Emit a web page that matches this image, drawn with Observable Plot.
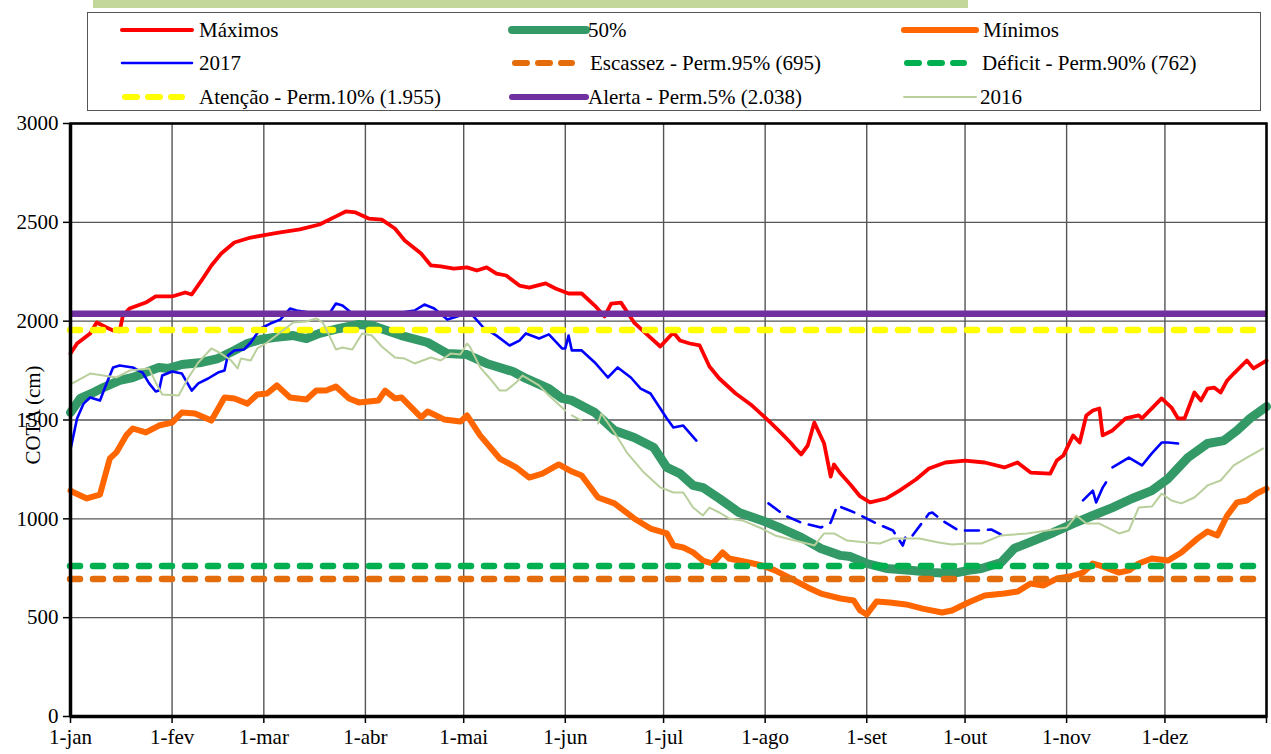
<!DOCTYPE html>
<html>
<head>
<meta charset="utf-8">
<script src="https://cdn.jsdelivr.net/npm/d3@7"></script>
<script src="https://cdn.jsdelivr.net/npm/@observablehq/plot@0.6"></script>
<style>
  body { margin: 0; background: #fff; font-family: "Liberation Serif", "Times New Roman", Tinos, "DejaVu Serif", serif; }
  #head { position: relative; width: 1271px; height: 100px; }
  #bar { position: absolute; left: 93px; top: 0; width: 875px; height: 8px; background: #C4D79B; }
  #box { position: absolute; left: 87px; top: 12px; width: 1174px; height: 99px; border: 1.5px solid #555; box-sizing: border-box; }
  .item { position: absolute; font-size: 21px; line-height: 24px; white-space: nowrap; color: #000; }
  .sw { position: absolute; }
  #chart svg { overflow: visible; }
</style>
</head>
<body>
<div id="head"><div id="bar"></div><div id="box"></div></div>
<div id="chart"></div>
<script>
// ---------- data (day of year, COTA in cm) ----------
const monthDays = [0, 31, 59, 90, 120, 151, 181, 212, 243, 273, 304, 334];
const monthLabels = ["1-jan", "1-fev", "1-mar", "1-abr", "1-mai", "1-jun", "1-jul", "1-ago", "1-set", "1-out", "1-nov", "1-dez"];
const yTicks = [0, 500, 1000, 1500, 2000, 2500, 3000];

const maximos = [
  [0,1836],[2,1887],[4,1912],[6,1938],[8,1993],[11,1968],[13,1953],[15,1948],[16,2029],[18,2064],
  [23,2094],[26,2125],[31,2125],[35,2145],[37,2135],[40,2206],[43,2282],[46,2342],[50,2398],[55,2423],
  [60,2438],[64,2449],[70,2464],[76,2489],[81,2530],[84,2555],[87,2550],[91,2519],[95,2514],[99,2469],
  [102,2408],[107,2342],[110,2282],[113,2277],[117,2266],[121,2272],[124,2256],[127,2272],[130,2241],[133,2231],
  [137,2180],[140,2170],[145,2191],[148,2165],[152,2140],[156,2140],[160,2079],[163,2024],[165,2089],[168,2094],
  [172,1993],[177,1917],[180,1872],[184,1943],[186,1902],[189,1887],[192,1877],[195,1771],[198,1710],[203,1634],
  [208,1573],[213,1497],[217,1432],[220,1381],[221,1361],[223,1326],[225,1371],[227,1487],[230,1381],[232,1214],
  [233,1275],[235,1229],[238,1174],[241,1113],[244,1083],[249,1103],[253,1143],[258,1199],[262,1255],[267,1285],
  [273,1295],[279,1285],[285,1260],[289,1285],[293,1234],[299,1229],[301,1295],[303,1320],[306,1422],[308,1386],
  [310,1523],[312,1548],[314,1558],[315,1422],[318,1447],[322,1508],[326,1523],[327,1508],[333,1609],[336,1563],
  [338,1508],[340,1508],[343,1639],[345,1599],[347,1659],[349,1664],[351,1639],[353,1700],[355,1735],[359,1801],
  [361,1761],[365,1801]
];

const mediana = [
  [0,1538],[3,1609],[7,1639],[10,1664],[15,1700],[19,1715],[27,1766],[30,1761],[34,1781],[40,1791],
  [45,1811],[50,1852],[54,1887],[58,1907],[62,1917],[68,1927],[72,1912],[76,1938],[82,1963],[88,1983],
  [92,1978],[101,1927],[109,1892],[115,1836],[121,1831],[127,1786],[135,1745],[139,1710],[146,1659],[150,1609],
  [153,1599],[160,1538],[166,1447],[172,1411],[178,1361],[182,1260],[186,1229],[190,1169],[193,1158],[198,1103],
  [204,1032],[211,992],[217,951],[223,906],[229,850],[235,815],[238,809],[243,774],[249,749],[257,739],
  [263,729],[269,723],[274,739],[278,749],[284,779],[288,850],[294,890],[300,931],[306,976],[312,1017],
  [318,1057],[324,1103],[330,1143],[335,1204],[341,1310],[347,1381],[352,1396],[356,1447],[360,1508],[365,1568]
];

const minimos = [
  [0,1143],[1,1133],[5,1103],[9,1123],[10,1184],[12,1305],[14,1336],[17,1422],[19,1457],[23,1437],
  [27,1472],[31,1487],[34,1538],[38,1533],[43,1497],[47,1614],[50,1609],[54,1583],[57,1629],[60,1634],
  [63,1675],[67,1614],[72,1604],[75,1649],[78,1649],[81,1669],[85,1609],[88,1589],[94,1599],[96,1649],
  [99,1609],[101,1614],[107,1513],[109,1543],[114,1503],[119,1492],[121,1523],[125,1422],[131,1305],[136,1260],
  [140,1209],[144,1229],[149,1275],[153,1239],[156,1219],[161,1108],[166,1078],[172,1002],[177,951],[182,926],
  [184,865],[187,855],[190,830],[193,789],[196,774],[199,830],[201,799],[207,779],[211,764],[215,739],
  [221,688],[225,653],[229,622],[235,597],[239,587],[241,536],[243,516],[246,582],[250,577],[255,567],
  [260,546],[266,526],[269,536],[274,577],[279,612],[285,622],[289,632],[293,673],[297,663],[301,698],
  [305,708],[309,728],[312,774],[315,759],[320,728],[323,739],[326,774],[330,799],[335,789],[339,830],
  [344,901],[347,936],[350,916],[353,1017],[356,1083],[359,1093],[362,1128],[365,1153]
];

// 2017: solid parts (null = no data)
const cota2017 = [
  [0,1351],[2,1508],[4,1583],[6,1614],[9,1599],[11,1685],[13,1766],[15,1776],[19,1766],[22,1740],
  [24,1685],[26,1644],[27,1649],[28,1725],[31,1745],[34,1735],[37,1649],[39,1685],[42,1710],[45,1740],
  [47,1750],[48,1826],[50,1852],[53,1857],[55,1892],[58,1963],[61,1988],[64,2008],[67,2064],[69,2054],
  [73,2044],[77,2029],[79,2039],[81,2089],[83,2079],[86,2039],[91,2029],[95,2039],[101,2044],[105,2054],
  [108,2084],[111,2064],[115,2008],[118,2024],[121,2044],[123,2024],[126,1968],[130,1927],[134,1877],[137,1902],
  [139,1938],[143,1912],[146,1933],[150,1862],[151,1862],[152,1927],[153,1852],[156,1852],[160,1791],[164,1715],
  [167,1766],[171,1715],[174,1659],[177,1634],[180,1558],[182,1508],[184,1462],[187,1472],[191,1396],
  [192,null],
  [309,1093],[312,1143],[313,1083],[315,1158],[316,1184],
  [317,null],
  [318,1260],[323,1310],[327,1270],[330,1331],[333,1386],[335,1386],[338,1381]
];
// 2017: sparse part (Aug-Sep), drawn broken
const cota2017Falhas = [
  [213,1078],[218,1017],[223,981],[229,956],[232,981],[234,1067],[237,1047],[240,1027],[246,976],[251,941],
  [254,865],[255,916],[257,916],[262,1027],[263,1032],[266,992],[271,941],[277,941],[281,946],[284,921]
];

const cota2016 = [
  [0,1680],[6,1735],[10,1725],[14,1715],[18,1750],[24,1761],[26,1690],[28,1629],[33,1624],[36,1715],
  [39,1791],[43,1862],[46,1836],[49,1801],[51,1761],[52,1811],[55,1801],[57,1862],[60,1892],[64,1943],
  [68,1993],[72,1998],[75,2014],[77,1993],[79,1927],[81,1857],[83,1867],[86,1857],[89,1938],[92,1927],
  [95,1872],[99,1816],[102,1811],[105,1786],[110,1816],[113,1801],[116,1836],[119,1831],[121,1887],[122,1867],
  [125,1766],[128,1710],[131,1649],[133,1649],[136,1690],[138,1725],[143,1675],[146,1624],[150,1563],[151,1548],
  [152,null],
  [153,1523],[156,1497],
  [158,null],
  [161,1482],[162,1533],[166,1437],[170,1331],[175,1234],[180,1159],[184,1133],[187,1133],[190,1057],[193,1017],
  [195,1057],[198,1032],[201,1002],[205,992],[211,951],[215,916],[221,890],[226,870],[227,865],[230,926],
  [233,926],[237,890],[243,880],[247,875],[251,901],[255,901],[259,901],[265,880],[269,870],[274,875],
  [278,875],[284,916],[292,926],[298,941],[304,956],[307,1017],[310,976],[314,976],[320,926],[323,941],
  [326,1057],[330,1062],[333,1128],[336,1093],[339,1078],[343,1108],[347,1169],[351,1194],[355,1270],[359,1310],
  [364,1356]
];

const escassez = 695;   // Perm.95%
const deficit = 762;    // Perm.90%
const atencao = 1955;   // Perm.10%
const alerta = 2038;    // Perm.5%

const FONT = '"Liberation Serif", "Times New Roman", Tinos, "DejaVu Serif", serif';

// ---------- legend (HTML above the SVG) ----------
const legendItems = [
  {label: "Máximos", color: "#FF0000", w: 4, dash: null, x: 122, len: 70, tx: 199, y: 30},
  {label: "50%", color: "#339966", w: 8, dash: null, x: 512, len: 74, tx: 588, y: 30},
  {label: "Mínimos", color: "#FF6600", w: 6, dash: null, x: 904, len: 72, tx: 983, y: 30},
  {label: "2017", color: "#0000FF", w: 2.5, dash: null, x: 122, len: 70, tx: 199, y: 63},
  {label: "Escassez - Perm.95% (695)", color: "#E46C0A", w: 6, dash: "11,13", x: 512, len: 63, tx: 590, y: 63},
  {label: "Déficit - Perm.90% (762)", color: "#00B050", w: 6, dash: "11,13", x: 904, len: 63, tx: 982, y: 63},
  {label: "Atenção - Perm.10% (1.955)", color: "#FFFF00", w: 6, dash: "11,13", x: 122, len: 63, tx: 199, y: 97},
  {label: "Alerta - Perm.5% (2.038)", color: "#7030A0", w: 6, dash: null, x: 512, len: 74, tx: 588, y: 97},
  {label: "2016", color: "#B9CF9C", w: 2, dash: null, x: 904, len: 72, tx: 980, y: 97}
];
const head = document.getElementById("head");
for (const it of legendItems) {
  const ns = "http://www.w3.org/2000/svg";
  const svg = document.createElementNS(ns, "svg");
  svg.setAttribute("class", "sw");
  svg.setAttribute("width", it.len + 8);
  svg.setAttribute("height", 14);
  svg.style.left = (it.x - 4) + "px";
  svg.style.top = (it.y - 7) + "px";
  const ln = document.createElementNS(ns, "line");
  ln.setAttribute("x1", 4 + (it.dash ? 3 : 0));
  ln.setAttribute("x2", 4 + it.len - (it.dash ? 3 : 0));
  ln.setAttribute("y1", 7); ln.setAttribute("y2", 7);
  ln.setAttribute("stroke", it.color);
  ln.setAttribute("stroke-width", it.w);
  ln.setAttribute("stroke-linecap", "round");
  if (it.dash) ln.setAttribute("stroke-dasharray", "12,11");
  svg.appendChild(ln);
  head.appendChild(svg);
  const t = document.createElement("div");
  t.className = "item";
  t.style.fontFamily = FONT;
  t.textContent = it.label;
  t.style.left = it.tx + "px";
  t.style.top = (it.y - 12) + "px";
  head.appendChild(t);
}

// ---------- chart ----------
const labelOf = new Map(monthDays.map((d, i) => [d, monthLabels[i]]));
const toObj = (arr) => arr.map(([d, v]) => ({d, v}));

const chart = Plot.plot({
  width: 1271,
  height: 654,
  marginLeft: 70,
  marginRight: 5,
  marginTop: 23,
  marginBottom: 38,
  style: {fontFamily: FONT, fontSize: "21px", background: "none", color: "black", overflow: "visible"},
  x: {domain: [0, 365]},
  y: {domain: [0, 3000]},
  marks: [
    Plot.gridX(monthDays.concat([365]), {stroke: "#555", strokeOpacity: 1, strokeWidth: 1.4}),
    Plot.gridY(yTicks, {stroke: "#555", strokeOpacity: 1, strokeWidth: 1.4}),
    Plot.axisX({ticks: monthDays.concat([365]), tickFormat: d => labelOf.get(d) ?? "", tickSize: 7, tickPadding: 6, fontSize: 21, fontFamily: FONT, label: null, strokeWidth: 1.5}),
    Plot.axisY({ticks: yTicks, tickFormat: d => String(d), tickSize: 7, tickPadding: 5, fontSize: 21, fontFamily: FONT, label: null, strokeWidth: 1.5}),
    Plot.text(["COTA (cm)"], {frameAnchor: "left", dx: -37, dy: -5, rotate: -90, textAnchor: "middle", lineAnchor: "middle", fontSize: 21, fontFamily: FONT}),
    Plot.line(toObj(maximos), {x: "d", y: "v", stroke: "#FF0000", strokeWidth: 3.8}),
    Plot.line(toObj(mediana), {x: "d", y: "v", stroke: "#339966", strokeWidth: 9}),
    Plot.line(toObj(minimos), {x: "d", y: "v", stroke: "#FF6600", strokeWidth: 6}),
    Plot.line(toObj(cota2017), {x: "d", y: "v", stroke: "#0000FF", strokeWidth: 2.6}),
    Plot.line(toObj(cota2017Falhas), {x: "d", y: "v", stroke: "#0000FF", strokeWidth: 2.6, strokeDasharray: "14,9"}),
    Plot.ruleY([escassez], {stroke: "#E46C0A", strokeWidth: 6.5, strokeDasharray: "10,13", strokeLinecap: "round"}),
    Plot.ruleY([deficit], {stroke: "#00B050", strokeWidth: 6.5, strokeDasharray: "10,13", strokeLinecap: "round"}),
    Plot.ruleY([atencao], {stroke: "#FFFF00", strokeWidth: 6.5, strokeDasharray: "10,13", strokeLinecap: "round"}),
    Plot.ruleY([alerta], {stroke: "#7030A0", strokeWidth: 6.5}),
    Plot.line(toObj(cota2016), {x: "d", y: "v", stroke: "#B9CF9C", strokeWidth: 2}),
    Plot.frame({stroke: "black", strokeWidth: 2.5}),
    Plot.ruleX([0], {stroke: "black", strokeWidth: 3.5}),
    Plot.ruleY([0], {stroke: "black", strokeWidth: 3.5})
  ]
});
document.getElementById("chart").appendChild(chart);
</script>
</body>
</html>
